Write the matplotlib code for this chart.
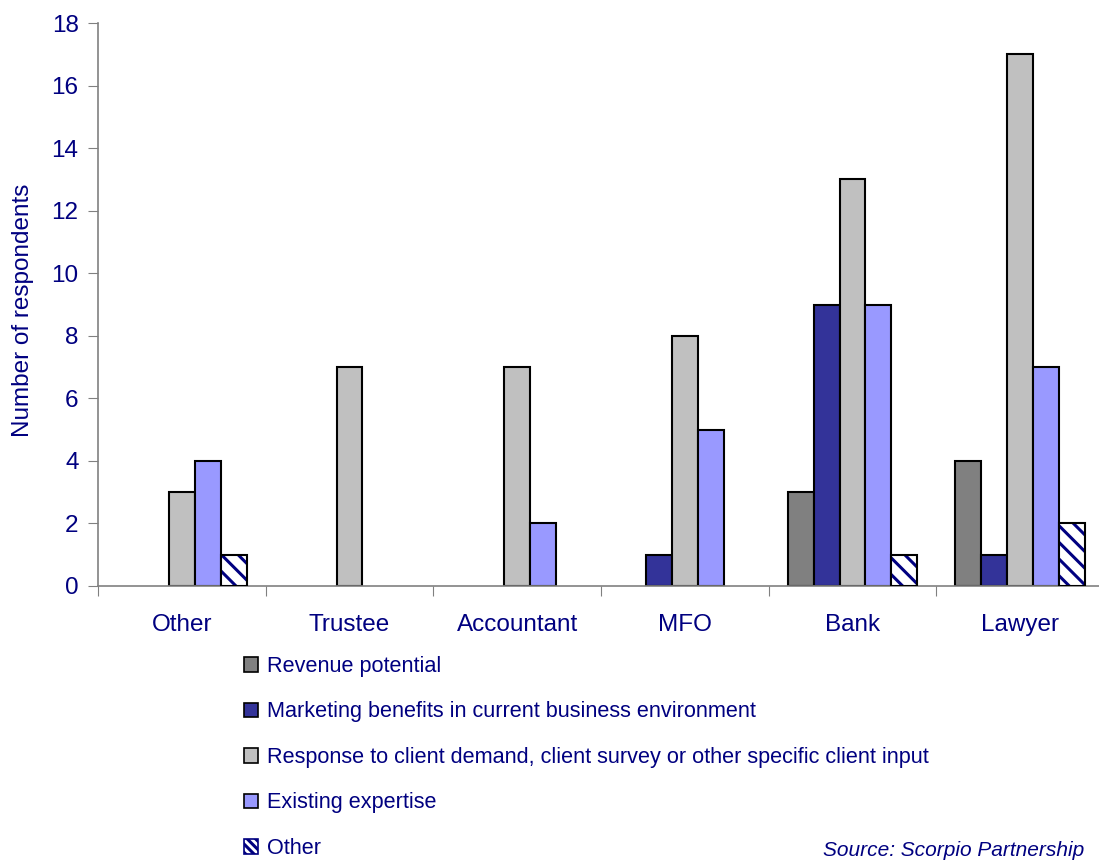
import numpy as np
import matplotlib.pyplot as plt
from matplotlib.patches import Patch

plt.rcParams['font.family'] = ['Liberation Sans', 'DejaVu Sans']
plt.rcParams['hatch.linewidth'] = 2.2

categories = ['Other', 'Trustee', 'Accountant', 'MFO', 'Bank', 'Lawyer']
series_names = ['Revenue potential',
                'Marketing benefits in current business environment',
                'Response to client demand, client survey or other specific client input',
                'Existing expertise',
                'Other']
revenue = [0, 0, 0, 0, 3, 4]
marketing = [0, 0, 0, 1, 9, 1]
response = [3, 7, 7, 8, 13, 17]
expertise = [4, 0, 2, 5, 9, 7]
other = [1, 0, 0, 0, 1, 2]
series = [revenue, marketing, response, expertise, other]

colors = ['#808080', '#333399', '#C0C0C0', '#9999FF', 'white']
navy = '#000080'

fig = plt.figure(figsize=(10.99, 8.61), dpi=100)
ax = fig.add_axes([98 / 1099, 275 / 861, 1006 / 1099, 563 / 861])

x = np.arange(len(categories))
w = 0.155
for i, vals in enumerate(series):
    vals = np.array(vals, dtype=float)
    keep = vals > 0
    pos = x[keep] + (i - 2) * w
    if i == 4:
        # hatched fill first, then a black outline on top
        ax.bar(pos, vals[keep], w, color='white', edgecolor=navy,
               hatch='\\\\', linewidth=0, zorder=2)
        ax.bar(pos, vals[keep], w, fill=False, edgecolor='black',
               linewidth=1.5, zorder=3)
    else:
        ax.bar(pos, vals[keep], w, color=colors[i], edgecolor='black',
               linewidth=1.5, zorder=2)

ax.set_xlim(-0.5, 5.5)
ax.set_ylim(0, 18)
ax.set_yticks(range(0, 19, 2))
ax.set_xticks(np.arange(-0.5, 6, 1))
ax.set_xticklabels([])
ax.set_xticks(x, minor=True)
ax.set_xticklabels(categories, minor=True)
ax.tick_params(axis='x', which='minor', length=0, pad=20,
               labelsize=17.5, labelcolor=navy)
ax.tick_params(axis='x', which='major', length=7, direction='out',
               color='#808080')
ax.tick_params(axis='y', length=7, direction='out', color='#808080',
               labelsize=17.5, labelcolor=navy, pad=7)
for side in ['top', 'right']:
    ax.spines[side].set_visible(False)
for side in ['left', 'bottom']:
    ax.spines[side].set_color('#808080')
    ax.spines[side].set_linewidth(1.2)

ax.set_ylabel('Number of respondents', color=navy, fontsize=17.5)
ax.yaxis.set_label_coords(-0.064, 0.49)

handles = []
for i in range(5):
    if i == 4:
        handles.append(Patch(facecolor='white', edgecolor=navy, hatch='\\\\\\\\',
                             linewidth=1.2))
    else:
        handles.append(Patch(facecolor=colors[i], edgecolor='black',
                             linewidth=1.2))
leg = fig.legend(handles, series_names, loc='upper left',
                 bbox_to_anchor=(244 / 1099, 1 - 656 / 861), frameon=False,
                 fontsize=15.6, handlelength=0.65, handleheight=0.65,
                 handletextpad=0.4, labelspacing=1.13, borderpad=0,
                 borderaxespad=0)
for t in leg.get_texts():
    t.set_color(navy)

fig.text(823 / 1099, 1 / 861, 'Source: Scorpio Partnership',
         style='italic', color=navy, fontsize=15, va='bottom')

fig.savefig('out.png', dpi=100)
